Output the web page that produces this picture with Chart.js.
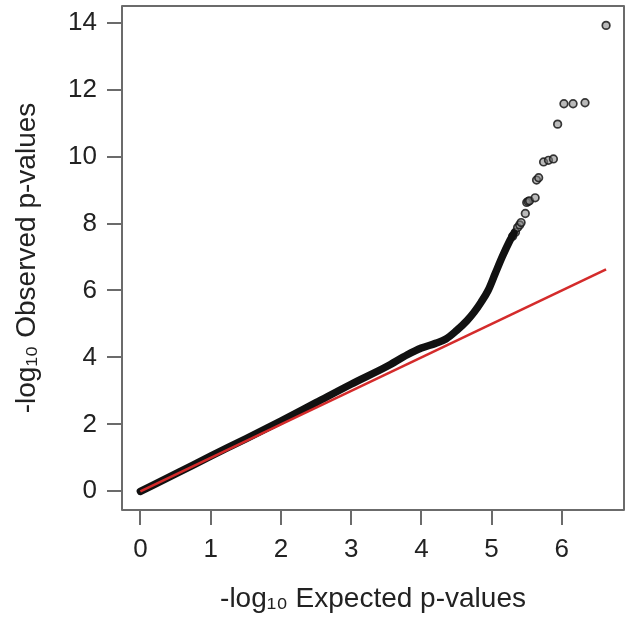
<!DOCTYPE html>
<html>
<head>
<meta charset="utf-8">
<script src="https://cdn.jsdelivr.net/npm/chart.js@4.4.1/dist/chart.umd.min.js"></script>
<style>
  html, body { margin: 0; padding: 0; background: #ffffff; }
  #wrap { width: 630px; height: 621px; }
</style>
</head>
<body>
<div id="wrap"><canvas id="c" width="630" height="621"></canvas></div>
<script>
// Dense part of the Q-Q curve (expected -log10 p, observed -log10 p)
const bandExpected = [0, 0.5, 1.0, 1.5, 2.0, 2.5, 3.0, 3.5, 3.8, 4.0, 4.2, 4.35, 4.5, 4.65, 4.75, 4.85, 4.95, 5.05, 5.15, 5.25, 5.32];
const bandObserved = [0, 0.52, 1.05, 1.57, 2.1, 2.65, 3.2, 3.72, 4.08, 4.28, 4.42, 4.55, 4.8, 5.1, 5.35, 5.65, 6.0, 6.5, 7.0, 7.45, 7.72];

// Sparse individual points in the tail
const tailExpected = [5.30, 5.34, 5.37, 5.40, 5.42, 5.48, 5.50, 5.52, 5.54, 5.62, 5.64, 5.67, 5.74, 5.81, 5.88, 5.94, 6.03, 6.16, 6.33, 6.63];
const tailObserved = [7.62, 7.74, 7.88, 7.96, 8.03, 8.30, 8.63, 8.66, 8.68, 8.77, 9.30, 9.37, 9.84, 9.89, 9.93, 10.97, 11.58, 11.58, 11.61, 13.92];

// Reference line y = x
const refExpected = [0, 6.63];
const refObserved = [0, 6.63];

// Axis ticks and titles
const xTicks = [0, 1, 2, 3, 4, 5, 6];
const yTicks = [0, 2, 4, 6, 8, 10, 12, 14];
const xTitle = "-log\u2081\u2080 Expected p-values";
const yTitle = "-log\u2081\u2080 Observed p-values";

const toXY = (xs, ys) => xs.map((x, i) => ({ x: x, y: ys[i] }));

const boxPlugin = {
  id: 'box',
  beforeDatasetsDraw(chart) {
    const a = chart.chartArea;
    const ctx = chart.ctx;
    ctx.save();
    ctx.strokeStyle = '#6b6b6b';
    ctx.lineWidth = 2;
    ctx.lineJoin = 'round';
    ctx.strokeRect(a.left, a.top, a.right - a.left, a.bottom - a.top);
    ctx.restore();
  }
};

const axisColor = '#6b6b6b';
const tickFont = { family: 'Liberation Sans, Arial, sans-serif', size: 26 };
const titleFont = { family: 'Liberation Sans, Arial, sans-serif', size: 28 };

new Chart(document.getElementById('c'), {
  type: 'scatter',
  data: {
    datasets: [
      {
        label: 'y = x',
        type: 'line',
        data: toXY(refExpected, refObserved),
        borderColor: '#d42b2b',
        borderWidth: 2.6,
        pointRadius: 0,
        fill: false,
        order: 0
      },
      {
        label: 'dense',
        type: 'line',
        data: toXY(bandExpected, bandObserved),
        borderColor: '#111111',
        borderWidth: 7.5,
        borderCapStyle: 'round',
        borderJoinStyle: 'round',
        cubicInterpolationMode: 'monotone',
        pointRadius: 0,
        fill: false,
        order: 1
      },
      {
        label: 'tail',
        data: toXY(tailExpected, tailObserved),
        pointRadius: 3.8,
        pointBorderWidth: 1.7,
        pointBorderColor: 'rgba(25,25,25,0.85)',
        pointBackgroundColor: 'rgba(130,130,130,0.55)',
        showLine: false,
        order: 2
      }
    ]
  },
  options: {
    responsive: false,
    devicePixelRatio: 1,
    animation: false,
    layout: { padding: { top: 6, right: 6, left: 0, bottom: 0 } },
    plugins: { legend: { display: false }, tooltip: { enabled: false } },
    scales: {
      x: {
        type: 'linear',
        min: -0.262,
        max: 6.885,
        afterBuildTicks(scale) { scale.ticks = xTicks.map(v => ({ value: v })); },
        afterFit(scale) { scale.height = 111; scale.paddingLeft = 0; scale.paddingRight = 0; },
        ticks: { color: '#222', font: tickFont, padding: 9, maxRotation: 0 },
        grid: { display: true, drawOnChartArea: false, drawTicks: true, tickLength: 15, color: axisColor, lineWidth: 2 },
        border: { display: false },
        title: { display: true, text: xTitle, color: '#222', font: titleFont, padding: { top: 0, bottom: 5 } }
      },
      y: {
        type: 'linear',
        min: -0.558,
        max: 14.5,
        afterBuildTicks(scale) { scale.ticks = yTicks.map(v => ({ value: v })); },
        afterFit(scale) { scale.width = 122; scale.paddingTop = 0; scale.paddingBottom = 0; },
        ticks: { color: '#222', font: tickFont, padding: 10 },
        grid: { display: true, drawOnChartArea: false, drawTicks: true, tickLength: 15, color: axisColor, lineWidth: 2 },
        border: { display: false },
        title: { display: true, text: yTitle, color: '#222', font: titleFont, padding: { top: 10, bottom: 0 } }
      }
    }
  },
  plugins: [boxPlugin]
});
</script>
</body>
</html>
